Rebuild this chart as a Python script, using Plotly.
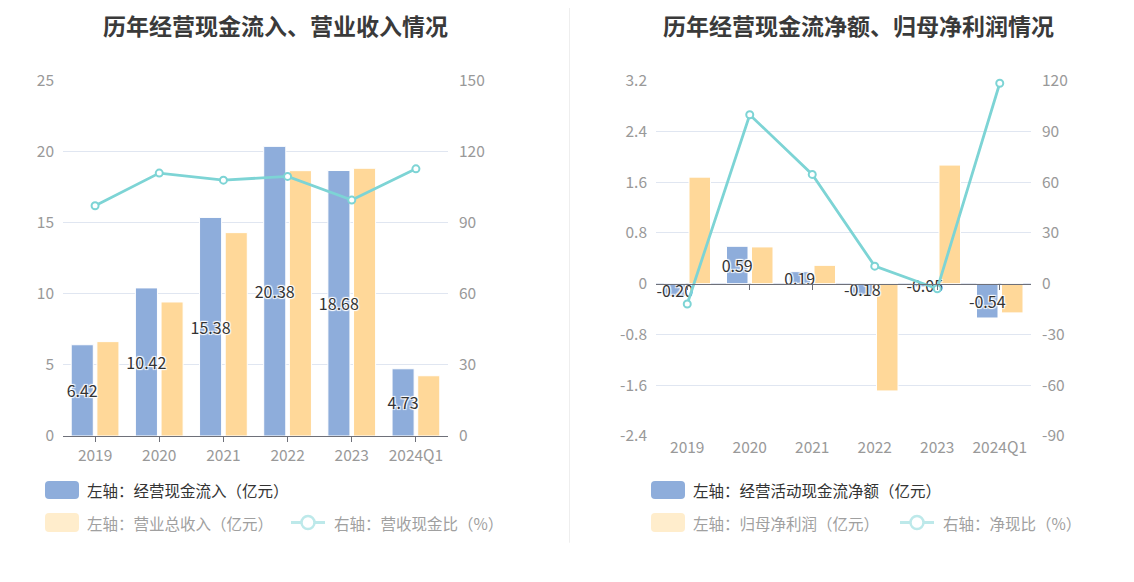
import plotly.graph_objects as go

# ---------------- data ----------------
categories = ["2019", "2020", "2021", "2022", "2023", "2024Q1"]
cash_inflow = [6.42, 10.42, 15.38, 20.38, 18.68, 4.73]          # 经营现金流入（亿元）
total_revenue = [6.64, 9.43, 14.31, 18.67, 18.84, 4.24]         # 营业总收入（亿元）
revenue_cash_ratio = [97.2, 111.0, 108.0, 109.6, 99.6, 112.8]   # 营收现金比（%）

net_op_cash = [-0.20, 0.59, 0.19, -0.18, -0.05, -0.54]          # 经营活动现金流净额（亿元）
net_profit = [1.68, 0.58, 0.29, -1.69, 1.87, -0.46]             # 归母净利润（亿元）
net_cash_ratio = [-12.0, 99.9, 64.6, 10.4, -3.0, 118.5]         # 净现比（%）

left_y_ticks = [0, 5, 10, 15, 20, 25]
left_y2_ticks = [0, 30, 60, 90, 120, 150]
right_y_ticks = [-2.4, -1.6, -0.8, 0, 0.8, 1.6, 2.4, 3.2]
right_y_ticktext = ["-2.4", "-1.6", "-0.8", "0", "0.8", "1.6", "2.4", "3.2"]
right_y2_ticks = [-90, -60, -30, 0, 30, 60, 90, 120]
right_y2_ticktext = ["-90", "-60", "-30", "0", "30", "60", "90", "120"]

title_left = "历年经营现金流入、营业收入情况"
title_right = "历年经营现金流净额、归母净利润情况"
legend_left = ["左轴：经营现金流入（亿元）", "左轴：营业总收入（亿元）", "右轴：营收现金比（%）"]
legend_right = ["左轴：经营活动现金流净额（亿元）", "左轴：归母净利润（亿元）", "右轴：净现比（%）"]

# ---------------- style ----------------
PAGE_OFF = 8                      # default body margin of the html page
W, H = 1134 - PAGE_OFF, 582 - PAGE_OFF
FONT = "Noto Sans CJK SC"
BLUE = "#8EADDB"
YELLOW = "#FFD899"
CYAN = "#7DD4D5"
GRID = "#E0E6F1"
AXIS = "#6E7079"
TICK = "#999999"
SHADOW = "1px 1px 1px #fff, -1px -1px 1px #fff, 1px -1px 1px #fff, -1px 1px 1px #fff"

def px(x):
    return (x - PAGE_OFF) / W

def py(y):
    return 1 - (y - PAGE_OFF) / H

Y_DOM = [py(436), py(80.7)]
LEFT_DOM = [px(63), px(448)]
RIGHT_DOM = [px(656), px(1031)]

def fmt(v):
    return f"{v:.2f}"

fig = go.Figure()

def add_panel(xa, ya, ya2, blue_vals, yellow_vals, line_vals, names):
    fig.add_trace(go.Bar(
        x=categories, y=blue_vals, name=names[0],
        marker=dict(color=BLUE, line=dict(color="white", width=1)),
        xaxis=xa, yaxis=ya, offsetgroup="a", hoverinfo="x+y",
    ))
    fig.add_trace(go.Bar(
        x=categories, y=yellow_vals, name=names[1],
        marker=dict(color=YELLOW, line=dict(color="white", width=1)),
        xaxis=xa, yaxis=ya, offsetgroup="b", hoverinfo="x+y",
    ))
    # value labels of the blue series, drawn above both bar series
    fig.add_trace(go.Bar(
        x=categories, y=blue_vals, showlegend=False,
        marker=dict(color="rgba(0,0,0,0)", line=dict(width=0)),
        text=[fmt(v) for v in blue_vals], textposition="inside",
        insidetextanchor="middle", textangle=0, constraintext="none",
        textfont=dict(family=FONT, size=16, color="#333333", shadow=SHADOW),
        cliponaxis=False, xaxis=xa, yaxis=ya, offsetgroup="a", hoverinfo="skip",
    ))
    fig.add_trace(go.Scatter(
        x=categories, y=line_vals, name=names[2], mode="lines+markers",
        line=dict(color=CYAN, width=2.8),
        marker=dict(symbol="circle", size=7, color="white", line=dict(color=CYAN, width=2)),
        xaxis=xa, yaxis=ya2, cliponaxis=False,
    ))

add_panel("x", "y", "y2", cash_inflow, total_revenue, revenue_cash_ratio, legend_left)
add_panel("x2", "y3", "y4", net_op_cash, net_profit, net_cash_ratio, legend_right)

# invisible trace to activate the zero-line axis of the right panel
fig.add_trace(go.Scatter(x=categories, y=[None] * len(categories), xaxis="x3", yaxis="y3",
                         mode="markers", showlegend=False, hoverinfo="skip"))

tickfont = dict(family=FONT, size=15.5, color=TICK)

zero_frac = (0 - right_y_ticks[0]) / (right_y_ticks[-1] - right_y_ticks[0])
zero_pos = Y_DOM[0] + zero_frac * (Y_DOM[1] - Y_DOM[0])

common_y = dict(zeroline=False, showline=False, tickfont=tickfont, automargin=False,
                fixedrange=True)

fig.update_layout(
    width=W, height=H,
    margin=dict(l=0, r=0, t=0, b=0, pad=0),
    paper_bgcolor="white", plot_bgcolor="white",
    showlegend=False,
    barmode="group", bargap=0.2, bargroupgap=0.14,
    font=dict(family=FONT),
    xaxis=dict(domain=LEFT_DOM, anchor="y", type="category",
               showline=True, linecolor=AXIS, linewidth=1,
               ticks="outside", ticklen=5, tickcolor=AXIS,
               tickfont=tickfont, showgrid=False, automargin=False, fixedrange=True),
    yaxis=dict(domain=Y_DOM, anchor="x", range=[left_y_ticks[0], left_y_ticks[-1]],
               tickvals=left_y_ticks, showgrid=True, gridcolor=GRID, gridwidth=1,
               ticklabelstandoff=8, **common_y),
    yaxis2=dict(overlaying="y", side="right", anchor="x",
                range=[left_y2_ticks[0], left_y2_ticks[-1]], tickvals=left_y2_ticks,
                showgrid=False, ticklabelstandoff=10, **common_y),
    xaxis2=dict(domain=RIGHT_DOM, anchor="y3", type="category",
                showline=False, ticks="", tickfont=tickfont, showgrid=False,
                automargin=False, fixedrange=True),
    xaxis3=dict(overlaying="x2", anchor="free", position=zero_pos, type="category",
                range=[-0.5, len(categories) - 0.5],
                showline=True, linecolor=AXIS, linewidth=1,
                ticks="outside", ticklen=5, tickcolor=AXIS,
                showticklabels=False, showgrid=False, automargin=False,
                tickvals=categories, fixedrange=True),
    yaxis3=dict(domain=Y_DOM, anchor="x2", range=[right_y_ticks[0], right_y_ticks[-1]],
                tickvals=right_y_ticks, ticktext=right_y_ticktext,
                showgrid=True, gridcolor=GRID, ticklabelstandoff=8, **common_y),
    yaxis4=dict(overlaying="y3", side="right", anchor="x2",
                range=[right_y2_ticks[0], right_y2_ticks[-1]],
                tickvals=right_y2_ticks, ticktext=right_y2_ticktext,
                showgrid=False, ticklabelstandoff=10, **common_y),
)

# ---- titles ----
for text, cx in [(title_left, 275.5), (title_right, 858.5)]:
    fig.add_annotation(text=f"<b>{text}</b>", x=px(cx), y=py(24.5), xref="paper", yref="paper",
                       xanchor="center", yanchor="middle", showarrow=False,
                       font=dict(family=FONT, size=23, color="#3a3a3a"))

# ---- divider ----
fig.add_shape(type="line", xref="paper", yref="paper", x0=px(569.5), x1=px(569.5),
              y0=py(542.7), y1=1, line=dict(color="#EEEEEE", width=1))

# ---- custom legend ----
def rounded_box(x0, y0, x1, y1, r, color):
    X0, X1 = px(x0), px(x1)
    Y0, Y1 = py(y0), py(y1)
    rx, ry = r / W, r / H
    path = (f"M {X0+rx},{Y0} L {X1-rx},{Y0} Q {X1},{Y0} {X1},{Y0-ry} "
            f"L {X1},{Y1+ry} Q {X1},{Y1} {X1-rx},{Y1} L {X0+rx},{Y1} "
            f"Q {X0},{Y1} {X0},{Y1+ry} L {X0},{Y0-ry} Q {X0},{Y0} {X0+rx},{Y0} Z")
    fig.add_shape(type="path", path=path, xref="paper", yref="paper",
                  fillcolor=color, line=dict(width=0))

def legend_text(text, x, y, color):
    fig.add_annotation(text=text, x=px(x), y=py(y), xref="paper", yref="paper",
                       xanchor="left", yanchor="middle", showarrow=False,
                       font=dict(family=FONT, size=15.5, color=color))

def legend_line(x0, x1, y):
    fig.add_shape(type="line", xref="paper", yref="paper", x0=px(x0), x1=px(x1),
                  y0=py(y), y1=py(y), line=dict(color="#BDE9EA", width=3))
    cx = (x0 + x1) / 2
    r = 6.5
    fig.add_shape(type="circle", xref="paper", yref="paper",
                  x0=px(cx - r), x1=px(cx + r), y0=py(y + r), y1=py(y - r),
                  fillcolor="white", line=dict(color="#BDE9EA", width=2.5))

for base, labels, x_line, x_txt3 in [(45, legend_left, (291, 325), 332),
                                     (651, legend_right, (900, 934), 941)]:
    rounded_box(base, 481, base + 34, 499, 4, BLUE)
    legend_text(labels[0], base + 40, 490, "#333333")
    rounded_box(base, 513, base + 34, 532, 4, "#FFEDCC")
    legend_text(labels[1], base + 40, 522.5, "#A0A0A0")
    legend_line(x_line[0], x_line[1], 522.5)
    legend_text(labels[2], x_txt3, 522.5, "#A0A0A0")

fig.write_html("out.html")
